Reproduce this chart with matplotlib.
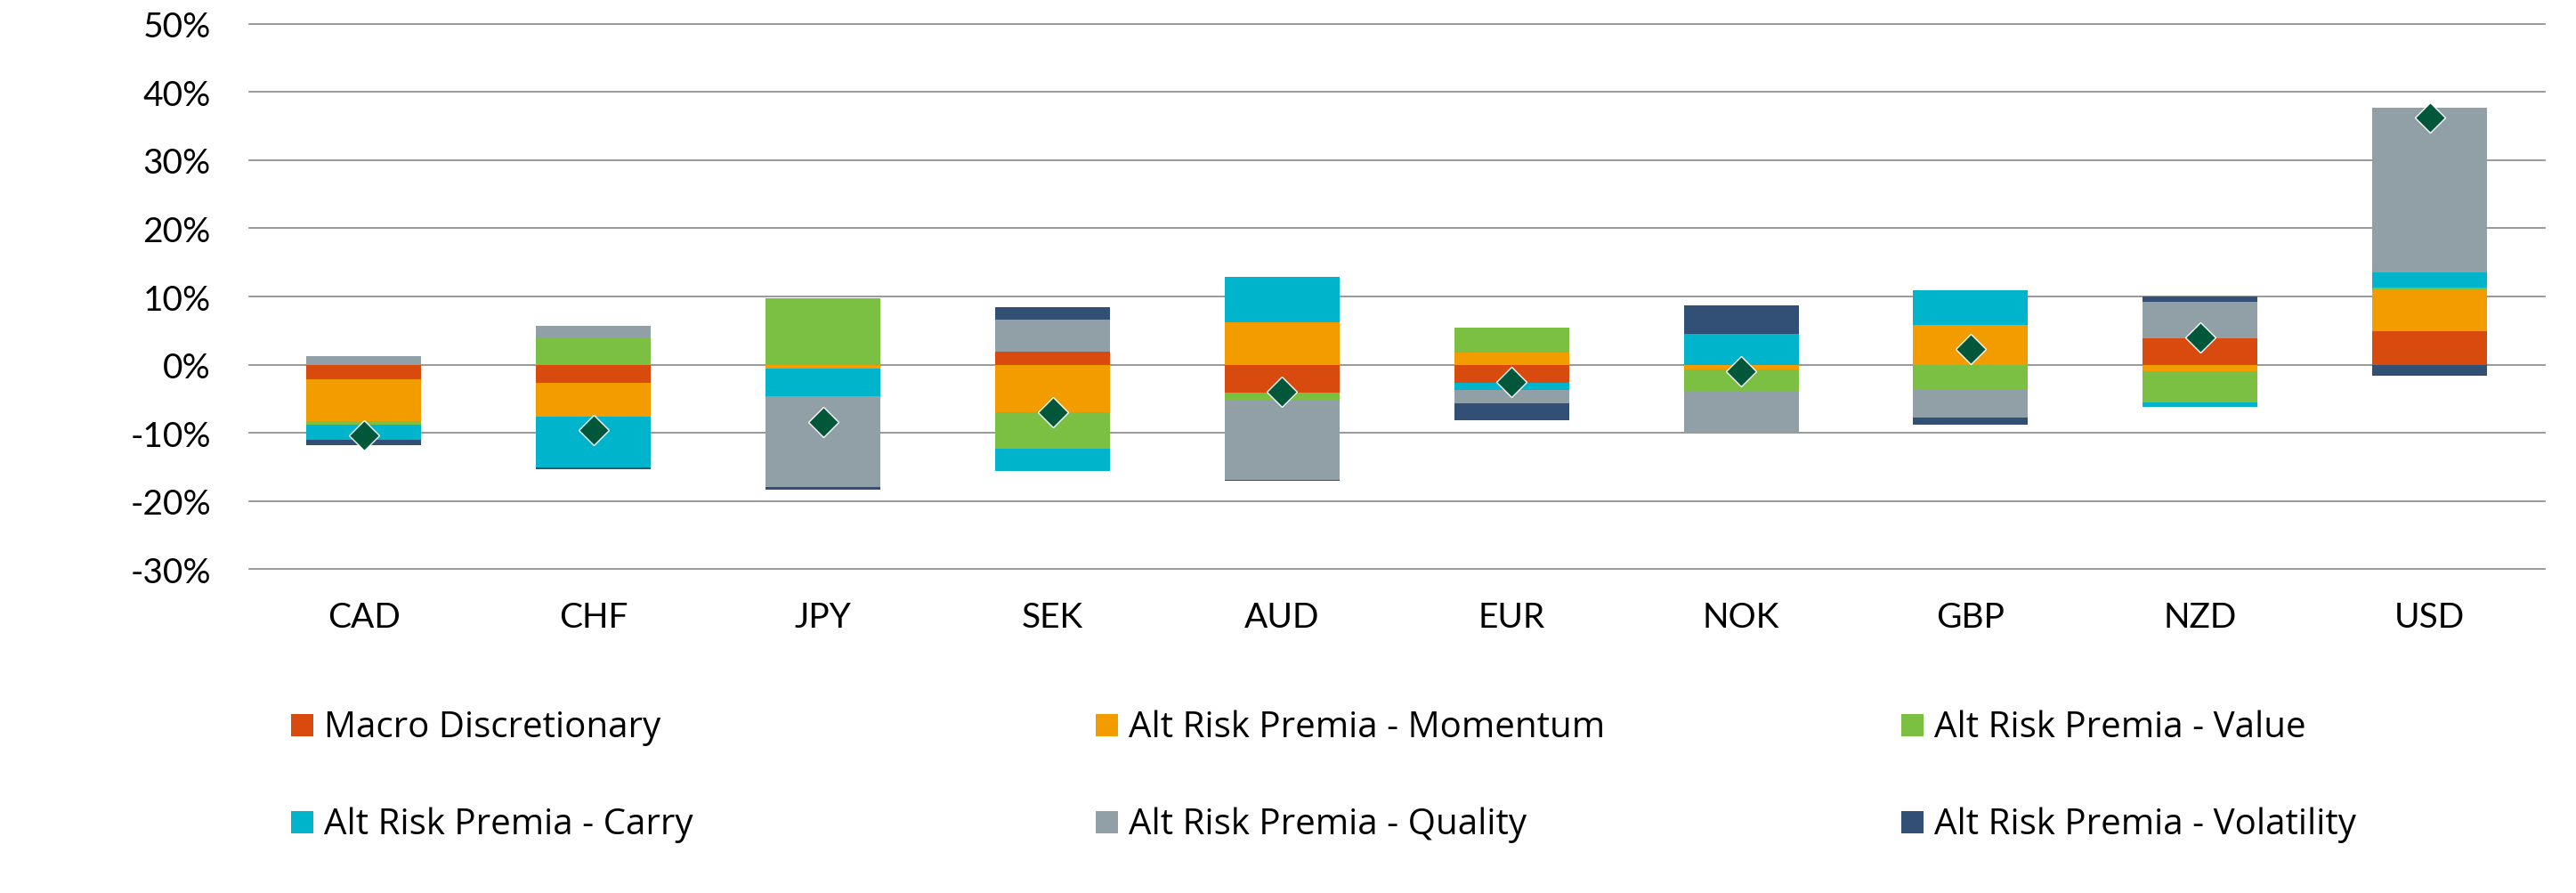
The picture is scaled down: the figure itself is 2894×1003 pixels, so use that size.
import numpy as np
import matplotlib

matplotlib.use("Agg")
import matplotlib.pyplot as plt
from matplotlib.patches import Rectangle
from matplotlib.ticker import FuncFormatter


# Du lieu doc tu hinh goc (don vi: %)
currencies = ["CAD", "CHF", "JPY", "SEK", "AUD", "EUR", "NOK", "GBP", "NZD", "USD"]

series_names = [
    "Macro Discretionary",
    "Alt Risk Premia - Momentum",
    "Alt Risk Premia - Value",
    "Alt Risk Premia - Carry",
    "Alt Risk Premia - Quality",
    "Alt Risk Premia - Volatility",
]

macro = [-2.1, -2.7, 0.0, 1.9, -4.1, -2.65, 0.0, 0.0, 3.85, 4.9]
momentum = [-6.2, -4.95, -0.6, -7.0, 6.2, 1.75, -0.77, 5.8, -1.0, 6.1]
value = [-0.5, 3.85, 9.7, -5.4, -1.05, 3.7, -3.1, -3.6, -4.55, 0.33]
carry = [-2.25, -7.4, -4.0, -3.2, 6.65, -1.1, 4.5, 5.1, -0.65, 2.2]
quality = [1.3, 1.8, -13.35, 4.67, -11.7, -1.9, -6.0, -4.2, 5.4, 24.2]
volatility = [-0.8, -0.35, -0.35, 1.8, -0.15, -2.5, 4.2, -1.05, 0.77, -1.65]

total = [-10.35, -9.63, -8.48, -7.04, -4.02, -2.53, -0.99, 2.26, 3.96, 36.2]

colors = ["#D94A0F", "#F39C00", "#7BC043", "#00B4CC", "#919FA6", "#325075"]


def main():
    fig = plt.figure(figsize=(28.94, 10.04), dpi=100)
    W, H = 2894, 1004
    ax = fig.add_axes([280 / W, 1 - 640.2 / H, 2578.6 / W, 612.4 / H])

    x = np.arange(len(currencies))
    pos_base = np.zeros(len(currencies))
    neg_base = np.zeros(len(currencies))

    # Cot chong: phan duong xep len tren 0, phan am xep xuong duoi 0
    for vals, color, name in zip(
        [macro, momentum, value, carry, quality, volatility], colors, series_names
    ):
        vals = np.array(vals)
        bottom = np.where(vals >= 0, pos_base, neg_base)
        ax.bar(x, vals, width=0.5, bottom=bottom, color=color, label=name, zorder=2)
        pos_base = pos_base + np.clip(vals, 0, None)
        neg_base = neg_base + np.clip(vals, None, 0)

    ax.plot(
        x,
        total,
        linestyle="none",
        marker="D",
        markersize=17.5,
        markerfacecolor="#00573A",
        markeredgecolor="white",
        markeredgewidth=1.0,
        zorder=3,
    )

    ax.set_xlim(-0.5, 9.5)
    ax.set_ylim(-30, 50)
    ax.set_yticks(np.arange(-30, 51, 10))
    ax.yaxis.set_major_formatter(FuncFormatter(lambda v, p: f"{v:.0f}%"))
    ax.set_xticks(x)
    ax.set_xticklabels(currencies)

    ax.yaxis.grid(True, color="#888888", linewidth=1.2)
    for line in ax.get_ygridlines():
        line.set_clip_on(False)
    ax.set_axisbelow(True)
    for spine in ax.spines.values():
        spine.set_visible(False)

    ax.tick_params(axis="both", length=0, labelsize=28, labelcolor="black")
    ax.tick_params(axis="y", pad=31)
    ax.tick_params(axis="x", pad=26)
    for lbl in ax.get_xticklabels() + ax.get_yticklabels():
        lbl.set_fontfamily("Lato")

    # Chu thich ve thu cong: 3 cot, 2 hang
    col_x = [327, 1231, 2136]
    row_base = [828, 937]
    for i, (name, color) in enumerate(zip(series_names, colors)):
        col, row = i % 3, i // 3
        px = col_x[col]
        py = row_base[row]
        fig.patches.append(
            Rectangle(
                (px / W, 1 - py / H),
                25 / W,
                25 / H,
                transform=fig.transFigure,
                facecolor=color,
                edgecolor="none",
            )
        )
        fig.text(
            (px + 37) / W,
            1 - py / H,
            name,
            fontsize=29,
            fontfamily="Open Sans",
            va="baseline",
            ha="left",
            color="black",
        )

    fig.savefig("out.png", dpi=100)
    plt.close(fig)


if __name__ == "__main__":
    main()
